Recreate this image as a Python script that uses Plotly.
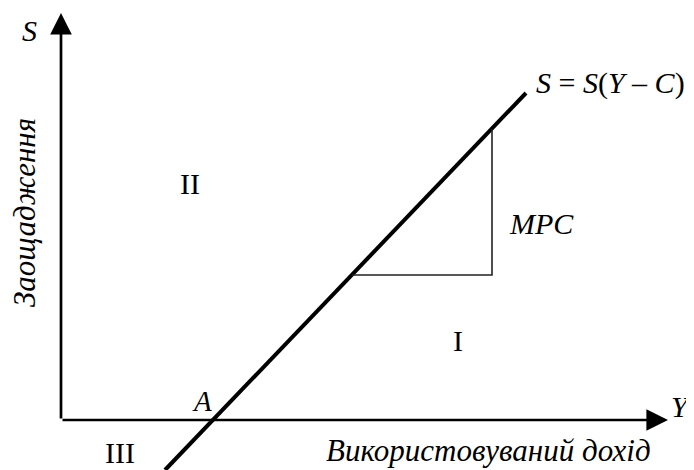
import plotly.graph_objects as go

# Saving function S = S(Y - C), chart units with origin at the axis crossing
line_x = [104, 465]
line_y = [-50, 327]

# MPC triangle
tri_x = [291, 431, 431]
tri_y = [145, 145, 291]

# Region labels
region_text = ["II", "I", "III"]
region_x = [129, 397, 59]
region_y = [234, 77, -35]

# axis arrow tips
x_axis_end = 607
y_axis_end = 407

FONT = "Liberation Serif, Times New Roman, serif"

fig = go.Figure()

fig.add_trace(go.Scatter(x=line_x, y=line_y, mode="lines",
                         line=dict(color="black", width=4),
                         hoverinfo="skip", showlegend=False))
fig.add_trace(go.Scatter(x=tri_x, y=tri_y, mode="lines",
                         line=dict(color="#222222", width=1.6),
                         hoverinfo="skip", showlegend=False))
fig.add_trace(go.Scatter(x=region_x, y=region_y, mode="text",
                         text=region_text,
                         textfont=dict(family=FONT, size=30, color="black"),
                         hoverinfo="skip", showlegend=False))

# axes with arrows
for tip in [(0, y_axis_end), (x_axis_end, 0)]:
    fig.add_annotation(x=tip[0], y=tip[1], ax=0, ay=0, xref="x", yref="y",
                       axref="x", ayref="y", showarrow=True, arrowhead=2,
                       arrowsize=1.6, arrowwidth=2.7, arrowcolor="black", text="")

labels = [
    dict(x=-32, y=390, text="<i>S</i>", size=30),
    dict(x=620, y=14, text="<i>Y</i>", size=30),
    dict(x=141, y=19, text="<i>A</i>", size=29),
    dict(x=549, y=337, text="<i>S</i> = <i>S</i>(<i>Y</i> – <i>C</i>)", size=30),
    dict(x=480, y=197, text="<i>MPC</i>", size=30),
    dict(x=427, y=-30, text="<i>Використовуваний дохід</i>", size=31),
]
for lb in labels:
    fig.add_annotation(x=lb["x"], y=lb["y"], xref="x", yref="y", text=lb["text"],
                       showarrow=False, font=dict(family=FONT, size=lb["size"], color="black"))

fig.add_annotation(x=-37, y=207, xref="x", yref="y", text="<i>Заощадження</i>",
                   textangle=-90, showarrow=False,
                   font=dict(family=FONT, size=31, color="black"))

fig.update_layout(
    width=694, height=470,
    margin=dict(l=0, r=0, t=0, b=0),
    paper_bgcolor="white", plot_bgcolor="white",
    xaxis=dict(range=[-53, 641], visible=False, fixedrange=True),
    yaxis=dict(range=[-58, 412], visible=False, fixedrange=True),
)

fig.write_html("out.html")
